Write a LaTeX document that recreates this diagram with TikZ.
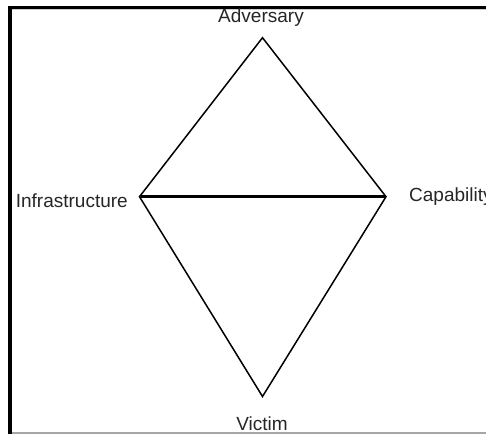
\documentclass[tikz,border=0pt]{standalone}
\usepackage{fontspec}
\setmainfont{Liberation Sans}
\begin{document}
\begin{tikzpicture}[x=1pt,y=1pt,
  lbl/.style={inner sep=0pt,font=\fontsize{19}{21}\selectfont,text=black!85},
  edge/.style={line width=1.5pt,line join=miter},
  bar/.style={line width=2.6pt}]
\useasboundingbox (0,0) rectangle (486,434);
\fill[white] (0,0) rectangle (486,434);
% frame
\draw[line width=4pt] (10,0) -- (10,428);
\draw[line width=3pt] (8,426.5) -- (486,426.5);
\draw[line width=0.8pt,black!20] (12,424.5) -- (486,424.5);
\draw[line width=1.6pt,black!35] (12,0.8) -- (486,0.8);
% vertices
\coordinate (A) at (262.5,396.3);
\coordinate (I) at (139.5,237.3);
\coordinate (C) at (386,237.3);
\coordinate (V) at (262.5,37.5);
\draw[edge] (I) -- (A) -- (C) -- (V) -- cycle;
\draw[bar] (I) -- (C);
% labels
\node[lbl,anchor=base] (la) at (261,411) {Adversary};
\node[lbl,anchor=base east] (li) at (128,226) {Infrastructure};
\node[lbl,anchor=base west] (lc) at (409,233) {Capability};
\node[lbl,anchor=base] (lv) at (262,3.5) {Victim};
\end{tikzpicture}
\end{document}
